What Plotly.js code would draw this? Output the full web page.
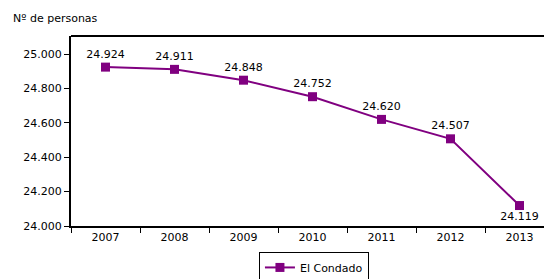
<!DOCTYPE html>
<html><head><meta charset="utf-8">
<script src="https://cdn.plot.ly/plotly-3.0.1.min.js"></script>
<style>html,body{margin:0;padding:0;background:#fff;}#c{width:544px;height:279px;}</style>
</head><body><div id="c"></div>
<script>
var years = ['2007','2008','2009','2010','2011','2012','2013'];
var personas = [24924, 24911, 24848, 24752, 24620, 24507, 24119];
var seriesName = 'El Condado';
var yTicks = [24000, 24200, 24400, 24600, 24800, 25000];

var textPos = personas.map(function(v,i){ return i === personas.length-1 ? 'bottom center' : 'top center'; });

var trace = {
  x: years, y: personas, type: 'scatter', mode: 'lines+markers+text',
  name: seriesName,
  line: {color: '#800080', width: 2},
  marker: {color: '#800080', symbol: 'square', size: 9},
  texttemplate: '%{y:,d}', textposition: textPos,
  textfont: {family: 'DejaVu Sans, Verdana, sans-serif', size: 11, color: '#000'},
  cliponaxis: false
};

var layout = {
  width: 544, height: 279,
  margin: {l: 71, r: 0, t: 36, b: 53},
  separators: ',.',
  paper_bgcolor: '#fff', plot_bgcolor: '#fff',
  font: {family: 'DejaVu Sans, Verdana, sans-serif', size: 11, color: '#000'},
  showlegend: true,
  legend: {orientation: 'h', xref: 'container', yref: 'container', x: 0.476, xanchor: 'left', y: 0.097, yanchor: 'top',
           bordercolor: '#000', borderwidth: 1, font: {size: 11}},
  xaxis: {type: 'category', range: [-0.5, 6.355], tickson: 'boundaries',
          ticks: 'outside', ticklen: 5, tickcolor: '#000', showline: true, linecolor: '#000', linewidth: 2,
          showgrid: false, zeroline: false, fixedrange: true},
  yaxis: {range: [24000, 25105], tickvals: yTicks, tickformat: ',d', ticks: 'outside', ticklen: 5,
          tickcolor: '#000', showline: true, linecolor: '#000', linewidth: 2, showgrid: false,
          zeroline: false, fixedrange: true},
  annotations: [{text: 'Nº de personas', xref: 'paper', yref: 'paper', x: -60/473, y: 1, xanchor: 'left',
                 yanchor: 'bottom', yshift: 9, showarrow: false, font: {size: 11}}],
  shapes: [{type: 'line', xref: 'paper', yref: 'paper', x0: 0, x1: 1, y0: 1, y1: 1,
            line: {color: '#000', width: 2}}]
};
Plotly.newPlot('c', [trace], layout, {displayModeBar: false, staticPlot: true});
</script></body></html>
